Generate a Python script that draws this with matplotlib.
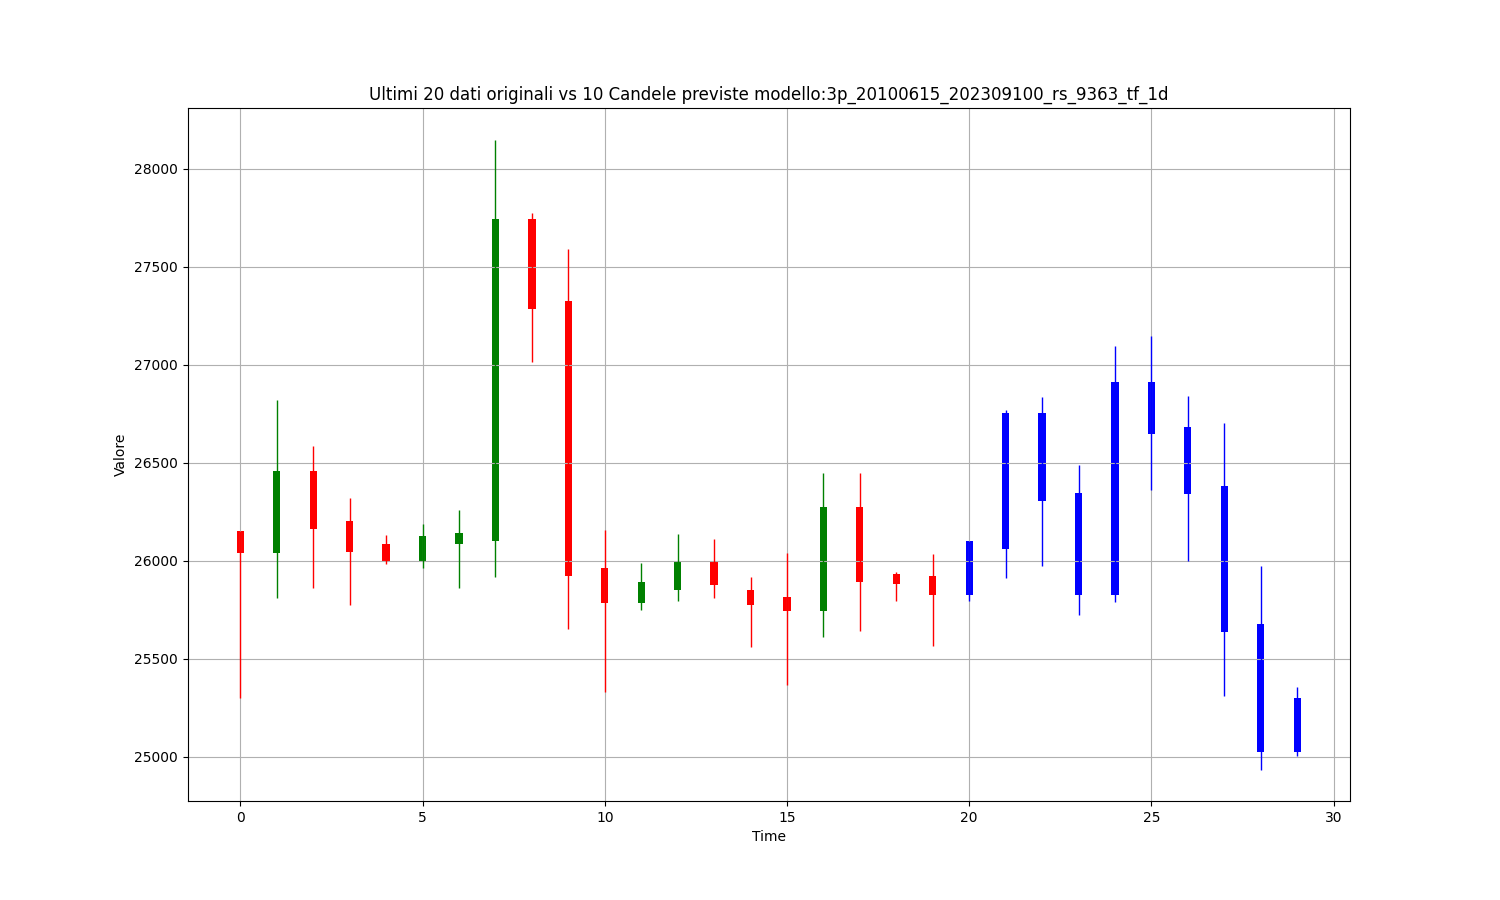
import matplotlib
matplotlib.use("Agg")
import matplotlib.pyplot as plt
import numpy as np

# ultimi 20 dati originali
open_orig = [26149, 26039, 26455, 26202, 26083, 25996, 26083, 26100, 27743, 27325,
             25961, 25784, 25849, 25991, 25849, 25813, 25742, 26276, 25930, 25920]
close_orig = [26039, 26455, 26161, 26044, 25996, 26125, 26141, 27743, 27285, 25922,
              25784, 25890, 25991, 25876, 25774, 25742, 26276, 25890, 25881, 25825]
high_orig = [26149, 26821, 26584, 26319, 26130, 26185, 26258, 28149, 27772, 27592,
             26154, 25986, 26134, 26108, 25915, 26041, 26446, 26446, 25944, 26032]
low_orig = [25297, 25808, 25859, 25774, 25981, 25961, 25859, 25917, 27016, 25650,
            25331, 25747, 25793, 25808, 25559, 25367, 25611, 25642, 25794, 25565]

# 10 candele previste
open_pred = [25823, 26058, 26755, 26343, 25823, 26913, 26684, 26380, 25676, 25299]
close_pred = [26100, 26755, 26302, 25823, 26913, 26645, 26339, 25636, 25025, 25025]
high_pred = [26100, 26770, 26837, 26487, 27093, 27144, 26842, 26704, 25971, 25355]
low_pred = [25794, 25911, 25971, 25723, 25788, 26359, 25996, 25311, 24934, 25005]

width = 0.2


def draw_candles(x, o, c, h, l, col_up, col_down):
    x = np.asarray(x)
    o = np.asarray(o)
    c = np.asarray(c)
    h = np.asarray(h)
    l = np.asarray(l)
    colors = np.where(c >= o, col_up, col_down)
    bottom = np.minimum(o, c)
    plt.vlines(x, l, h, colors=colors, linewidth=1)
    plt.bar(x, np.abs(c - o), width, bottom=bottom, color=colors)


fig = plt.figure(figsize=(15, 9), dpi=100)

n = len(open_orig)
draw_candles(np.arange(n), open_orig, close_orig, high_orig, low_orig, "green", "red")
draw_candles(np.arange(n, n + len(open_pred)), open_pred, close_pred, high_pred, low_pred,
             "blue", "blue")

plt.xlim(-1.45, 30.45)
plt.title("Ultimi 20 dati originali vs 10 Candele previste modello:3p_20100615_202309100_rs_9363_tf_1d")
plt.xlabel("Time")
plt.ylabel("Valore")
plt.grid()
plt.savefig("out.png")
